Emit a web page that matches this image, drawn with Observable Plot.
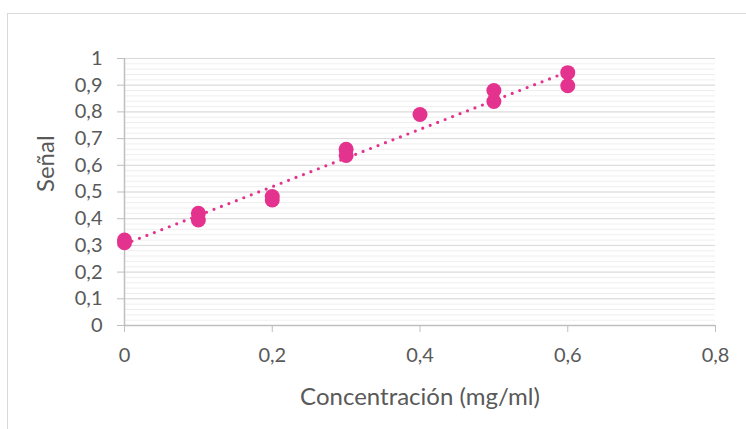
<!DOCTYPE html>
<html>
<head>
<meta charset="utf-8">
<script src="https://cdn.jsdelivr.net/npm/d3@7"></script>
<script src="https://cdn.jsdelivr.net/npm/@observablehq/plot@0.6"></script>
<style>
  html, body { margin: 0; padding: 0; background: #fff; }
  #wrap { position: relative; width: 746px; height: 429px; overflow: hidden; }
  #frame { position: absolute; left: 7px; top: 13px; width: 800px; height: 500px; border: 1px solid #d9d9d9; box-sizing: border-box; }
  #chart { position: absolute; left: 0; top: 0; }
</style>
</head>
<body>
<div id="wrap"><div id="frame"></div><div id="chart"></div></div>
<script>
const concentracion = [0, 0, 0.1, 0.1, 0.2, 0.2, 0.3, 0.3, 0.4, 0.5, 0.5, 0.6, 0.6];
const senal =         [0.32, 0.31, 0.42, 0.395, 0.483, 0.47, 0.66, 0.637, 0.79, 0.88, 0.839, 0.947, 0.898];
const xTicks = [0, 0.2, 0.4, 0.6, 0.8];
const yTicks = [0, 0.1, 0.2, 0.3, 0.4, 0.5, 0.6, 0.7, 0.8, 0.9, 1];
const yMinorTicks = d3.ticks(0, 1, 50);

const data = concentracion.map((c, i) => ({x: c, y: senal[i]}));
const fmt = d => String(d).replace(".", ",");
const pink = "#e4338f";
const textColor = "#595959";
const font = "Lato, 'Open Sans', sans-serif";

const plot = Plot.plot({
  width: 746,
  height: 429,
  marginLeft: 124,
  marginRight: 31,
  marginTop: 58,
  marginBottom: 104,
  style: {fontFamily: font, color: textColor, background: "transparent"},
  x: {domain: [0, 0.8]},
  y: {domain: [0, 1]},
  marks: [
    Plot.ruleY(yMinorTicks, {stroke: "#efefef", strokeWidth: 1, strokeOpacity: 1}),
    Plot.ruleY(yTicks, {stroke: "#d9d9d9", strokeWidth: 1, strokeOpacity: 1}),
    Plot.axisY(yTicks, {tickSize: 7, tickPadding: 15, tickFormat: fmt, stroke: "#bfbfbf", fontSize: 20, fill: textColor, label: null}),
    Plot.axisX(xTicks, {tickSize: 7, tickPadding: 15, tickFormat: fmt, stroke: "#bfbfbf", fontSize: 20, fill: textColor, label: null}),
    Plot.ruleX([0], {y1: 0, y2: 1, stroke: "#bfbfbf", strokeWidth: 1.5}),
    Plot.ruleY([0], {x1: 0, x2: 0.8, stroke: "#bfbfbf", strokeWidth: 1.5}),
    Plot.text(["Concentración (mg/ml)"], {frameAnchor: "bottom", dy: 72, fontSize: 24, fill: textColor, text: d => d, lineAnchor: "middle"}),
    Plot.text(["Señal"], {frameAnchor: "left", dx: -78, rotate: -90, fontSize: 24, fill: textColor, text: d => d}),
    Plot.linearRegressionY(data, {x: "x", y: "y", ci: 0, stroke: pink, strokeWidth: 3.2, strokeDasharray: "0 8", strokeLinecap: "round"}),
    Plot.dot(data, {x: "x", y: "y", r: 7.5, fill: pink, stroke: "none"})
  ]
});
document.getElementById("chart").appendChild(plot);
</script>
</body>
</html>
